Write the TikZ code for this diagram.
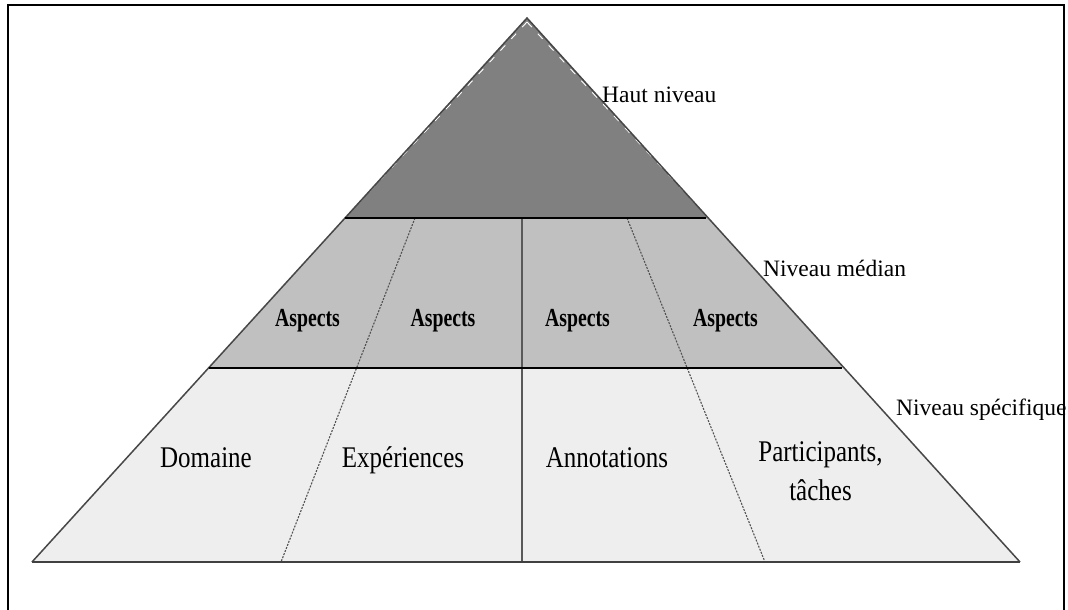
\documentclass[tikz,border=0pt]{standalone}
\usepackage{fontspec}
\setmainfont{Liberation Serif}
\usetikzlibrary{calc}
\newcommand\tallbox[1]{\scalebox{1}[1.2]{#1}}
\newcommand\narrowbox[1]{\scalebox{0.76}[1]{#1}}
\begin{document}
\begin{tikzpicture}[x=1pt,y=-1pt,
  edge/.style={draw=black!72,line width=1.5pt},
  sepline/.style={draw=black,line width=2.4pt},
  divline/.style={draw=black!65,line width=1.2pt},
  dashdiv/.style={draw=black!68,line width=1.1pt,dash pattern=on 2pt off 1.3pt},
  levellabel/.style={inner sep=0pt,anchor=base west,font=\fontsize{23.5}{28}\selectfont},
  aspectlabel/.style={inner sep=0pt,anchor=base,font=\bfseries\fontsize{26}{30}\selectfont},
  celllabel/.style={inner sep=0pt,anchor=base,font=\fontsize{25}{32}\selectfont}]
\useasboundingbox (0,0) rectangle (1068,610);
% frame
\draw[line width=2.4pt] (8,614) -- (8,5) -- (1064,5) -- (1064,614);
% pyramid corners
\coordinate (A) at (527,18);
\coordinate (L) at (32,562);
\coordinate (R) at (1020,562);
\coordinate (TL) at ($(A)!0.36765!(L)$);
\coordinate (TR) at ($(A)!0.36765!(R)$);
\coordinate (ML) at ($(A)!0.64338!(L)$);
\coordinate (MR) at ($(A)!0.64338!(R)$);
% fills
\fill[fill={rgb,255:red,128;green,128;blue,128}] (A) -- (TL) -- (TR) -- cycle;
\fill[fill={rgb,255:red,192;green,192;blue,192}] (TL) -- (TR) -- (MR) -- (ML) -- cycle;
\fill[fill={rgb,255:red,238;green,238;blue,238}] (ML) -- (MR) -- (R) -- (L) -- cycle;
% white dashed highlight inside top triangle
\begin{scope}
  \clip (A) -- (TL) -- (TR) -- cycle;
  \draw[white,line width=0.9pt,dash pattern=on 7pt off 9pt] ($(A)+(0,4)$) -- ($(TL)+(3.5,-4)$);
  \draw[white,line width=0.9pt,dash pattern=on 7pt off 9pt] ($(A)+(0,4)$) -- ($(TR)+(-3.5,-4)$);
\end{scope}
% dividers
\coordinate (D1t) at (415,218);
\coordinate (D1b) at (281,562);
\coordinate (D2t) at (627,218);
\coordinate (D2b) at (765,562);
\coordinate (Ct) at (522,218);
\coordinate (Cb) at (522,562);
\draw[dashdiv] (D1t) -- (D1b);
\draw[dashdiv] (D2t) -- (D2b);
\draw[divline] (Ct) -- (Cb);
% outline
\draw[edge] (L) -- (A) -- (R);
\draw[draw=black!75,line width=2.2pt] (L) -- (R);
\draw[sepline] (TL) -- ($(TR)+(-2,0)$);
\draw[sepline] (ML) -- ($(MR)+(-2,0)$);
% level labels
\node[levellabel] (haut) at (602,102) {Haut niveau};
\node[levellabel] (median) at (763,276) {Niveau médian};
\node[levellabel] (specif) at (896,415) {Niveau spécifique};
% aspects
\node[aspectlabel] (asp1) at (307.5,326) {\narrowbox{Aspects}};
\node[aspectlabel] (asp2) at (443,326) {\narrowbox{Aspects}};
\node[aspectlabel] (asp3) at (577.5,326) {\narrowbox{Aspects}};
\node[aspectlabel] (asp4) at (725.5,326) {\narrowbox{Aspects}};
% cells
\node[celllabel] (dom) at (206,467) {\tallbox{Domaine}};
\node[celllabel] (exp) at (403,467) {\tallbox{Expériences}};
\node[celllabel] (ann) at (607,467) {\tallbox{Annotations}};
\node[celllabel] (part) at (820.5,461.7) {\tallbox{\begin{tabular}[t]{@{}c@{}}Participants,\\tâches\end{tabular}}};
\end{tikzpicture}
\end{document}
